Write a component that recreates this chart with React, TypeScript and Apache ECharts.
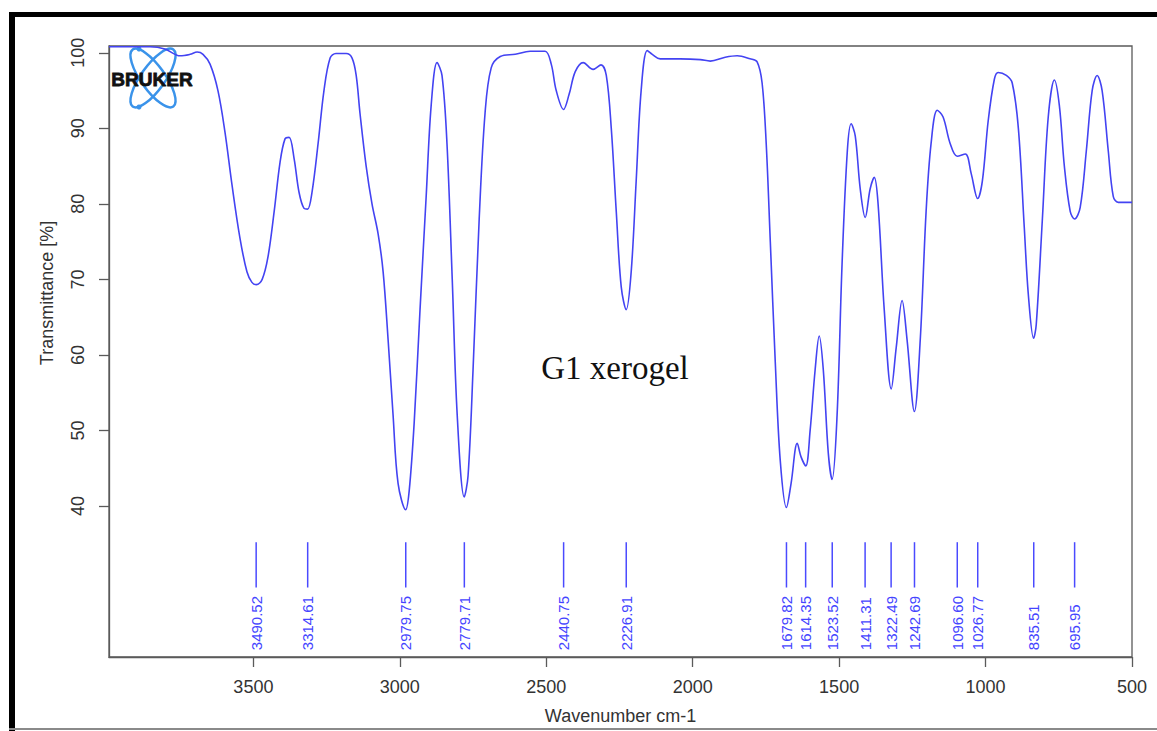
import React, { useEffect, useRef } from "react";
import * as echarts from "echarts";

// Spectrum (wavenumber cm-1, transmittance %)
const wavenumbers = [
  3993, 3853, 3802, 3750, 3716, 3692, 3672, 3648, 3621, 3597, 3573, 3546, 3522, 3505, 3490, 3470, 3450, 3429, 3409, 3392,
  3378, 3361, 3344, 3327, 3315, 3300, 3279, 3259, 3238, 3218, 3183, 3163, 3149, 3136, 3115, 3095, 3074, 3057, 3040, 3023,
  3006, 2980, 2968, 2951, 2931, 2910, 2893, 2873, 2856, 2839, 2821, 2804, 2780, 2767, 2750, 2729, 2709, 2688, 2657, 2606,
  2555, 2504, 2483, 2466, 2441, 2422, 2401, 2374, 2340, 2313, 2295, 2278, 2261, 2244, 2227, 2210, 2193, 2176, 2155, 2138,
  2111, 2043, 1974, 1940, 1889, 1848, 1804, 1780, 1763, 1749, 1735, 1718, 1701, 1680, 1664, 1643, 1630, 1614, 1599, 1582,
  1568, 1554, 1537, 1524, 1507, 1490, 1472, 1459, 1445, 1428, 1411, 1394, 1380, 1367, 1346, 1322, 1305, 1285, 1268, 1243,
  1223, 1203, 1186, 1165, 1145, 1121, 1097, 1069, 1049, 1027, 1011, 991, 970, 957, 929, 909, 888, 868, 854, 836,
  827, 806, 786, 765, 748, 731, 711, 696, 677, 656, 636, 619, 602, 581, 564, 547, 500,
];
const transmittance = [
  100.8, 100.8, 100.5, 99.6, 99.8, 100.1, 99.8, 98.5, 95, 89.5, 82.5, 75.5, 71, 69.6, 69.3, 70, 73, 79, 85.5, 88.6,
  88.8, 86, 81.5, 79.4, 79.3, 81.5, 88, 95, 99.3, 99.9, 99.9, 99.3, 97, 92, 85, 80, 76, 71, 62, 52,
  43, 39.5, 42, 51, 66, 81, 93, 98.7, 97, 88, 70, 52, 41.2, 44, 58, 78, 92, 98, 99.5, 99.8,
  100.2, 100.2, 98.5, 95, 92.5, 94.5, 97.5, 98.7, 97.8, 98.4, 97, 90, 79, 69, 66, 71, 83, 95, 100.3, 99.8,
  99.2, 99.2, 99.1, 98.9, 99.4, 99.6, 99.2, 98.8, 96, 88, 75, 59, 46, 39.8, 43, 48.3, 46.5, 45.3, 50, 58,
  62.5, 58, 47, 43.5, 52, 72, 87, 90.6, 89, 82, 78.2, 82, 83.5, 80, 66, 55.5, 61, 67.2, 62, 52.5,
  62, 79, 88, 92.4, 91.5, 88, 86.3, 86.6, 84, 80.7, 83, 91, 96.5, 97.4, 97, 96, 90, 77, 68, 62.2,
  64, 78, 91.5, 96.4, 93, 85, 79, 78, 79.5, 87, 95, 97, 95, 87, 81, 80.2, 80.2,
];

const peakPositions = [
  3490.52, 3314.61, 2979.75, 2779.71, 2440.75, 2226.91, 1679.82, 1614.35, 1523.52, 1411.31, 1322.49, 1242.69,
  1096.6, 1026.77, 835.51, 695.95,
];

const xTicks = [3500, 3000, 2500, 2000, 1500, 1000, 500];
const yTicks = [40, 50, 60, 70, 80, 90, 100];

const PEAK_LINE_TOP = 35.2;
const PEAK_LINE_BOTTOM = 29.2;
const PEAK_LABEL_BASE = 20.9;

const FONT = '"Liberation Sans", Arial, sans-serif';

export default function App() {
  const ref = useRef<HTMLDivElement>(null);
  useEffect(() => {
    if (!ref.current) return;
    const chart = echarts.init(ref.current, undefined, { renderer: "svg" });
    const spectrum = wavenumbers.map((w, i) => [w, transmittance[i]]);
    chart.setOption({
      animation: false,
      backgroundColor: "#ffffff",
      grid: { left: 109, top: 46, right: 25, bottom: 74, show: true, borderColor: "#5a5a5a", borderWidth: 1.3 },
      xAxis: {
        type: "value",
        inverse: true,
        min: 500,
        max: 3993,
        name: "Wavenumber cm-1",
        nameLocation: "middle",
        nameGap: 50,
        nameTextStyle: { fontFamily: FONT, fontSize: 18, color: "#333" },
        axisLine: { show: true, lineStyle: { color: "#5a5a5a", width: 1.3 } },
        axisTick: { show: true, length: 10, customValues: xTicks, lineStyle: { color: "#5a5a5a", width: 1.3 } },
        axisLabel: {
          customValues: xTicks,
          formatter: (v: number) => String(v),
          fontFamily: FONT,
          fontSize: 18,
          color: "#333",
          margin: 21,
        },
        splitLine: { show: false },
      },
      yAxis: {
        type: "value",
        min: 20,
        max: 100.9,
        axisLine: { show: true, lineStyle: { color: "#5a5a5a", width: 1.3 } },
        axisTick: { show: true, length: 10, customValues: yTicks, lineStyle: { color: "#5a5a5a", width: 1.3 } },
        axisLabel: {
          customValues: yTicks,
          formatter: (v: number) => String(v),
          rotate: 90,
          fontFamily: FONT,
          fontSize: 18,
          color: "#333",
          margin: 22,
        },
        splitLine: { show: false },
      },
      series: [
        {
          type: "line",
          data: spectrum,
          smooth: 0.35,
          showSymbol: false,
          lineStyle: { color: "#4343f2", width: 1.6 },
          z: 3,
        },
        {
          type: "custom",
          data: peakPositions.map((p) => [p, PEAK_LINE_TOP]),
          renderItem: (params: any, api: any) => {
            const wn = api.value(0);
            const top = api.coord([wn, PEAK_LINE_TOP]);
            const bot = api.coord([wn, PEAK_LINE_BOTTOM]);
            const lab = api.coord([wn, PEAK_LABEL_BASE]);
            return {
              type: "group",
              children: [
                {
                  type: "line",
                  shape: { x1: top[0], y1: top[1], x2: bot[0], y2: bot[1] },
                  style: { stroke: "#4a4aff", lineWidth: 1.5 },
                },
                {
                  type: "text",
                  x: lab[0],
                  y: lab[1],
                  rotation: Math.PI / 2,
                  style: {
                    text: peakPositions[params.dataIndex].toFixed(2),
                    fill: "#4444ff",
                    font: `15px ${FONT}`,
                    align: "left",
                    verticalAlign: "middle",
                  },
                },
              ],
            };
          },
          z: 4,
        },
      ],
      graphic: [
        { type: "rect", shape: { x: 9, y: 12, width: 6, height: 719 }, style: { fill: "#000" }, silent: true },
        { type: "rect", shape: { x: 9, y: 12, width: 1148, height: 5 }, style: { fill: "#000" }, silent: true },
        { type: "rect", shape: { x: 9, y: 728, width: 1148, height: 2 }, style: { fill: "#8a8a8a" }, silent: true },
        {
          type: "text",
          x: 47,
          y: 293,
          rotation: Math.PI / 2,
          style: { text: "Transmittance [%]", font: `18px ${FONT}`, fill: "#333", align: "center", verticalAlign: "middle" },
        },
        {
          type: "text",
          x: 615,
          y: 368,
          style: { text: "G1 xerogel", font: '33px "Liberation Serif", "Times New Roman", serif', fill: "#111", align: "center", verticalAlign: "middle" },
        },
        {
          type: "group",
          z: 10,
          children: [
            { type: "ellipse", x: 153, y: 78, rotation: Math.PI / 3.3, shape: { cx: 0, cy: 0, rx: 35, ry: 12 }, style: { fill: "none", stroke: "#3a93ea", lineWidth: 2.5 } },
            { type: "ellipse", x: 153, y: 78, rotation: -Math.PI / 3.3, shape: { cx: 0, cy: 0, rx: 35, ry: 12 }, style: { fill: "none", stroke: "#3a93ea", lineWidth: 2.5 } },
            { type: "circle", shape: { cx: 139, cy: 49, r: 2.5 }, style: { fill: "#3a93ea" } },
            { type: "circle", shape: { cx: 139, cy: 107, r: 2.5 }, style: { fill: "#3a93ea" } },
            {
              type: "text",
              x: 152,
              y: 79,
              style: { text: "BRUKER", font: `bold 19px ${FONT}`, fill: "#111", stroke: "#111", lineWidth: 0.8, align: "center", verticalAlign: "middle" },
            },
          ],
        },
      ],
    });
    return () => chart.dispose();
  }, []);
  return <div ref={ref} style={{ position: "fixed", left: 0, top: 0, width: 1157, height: 731, background: "#fff" }} />;
}
